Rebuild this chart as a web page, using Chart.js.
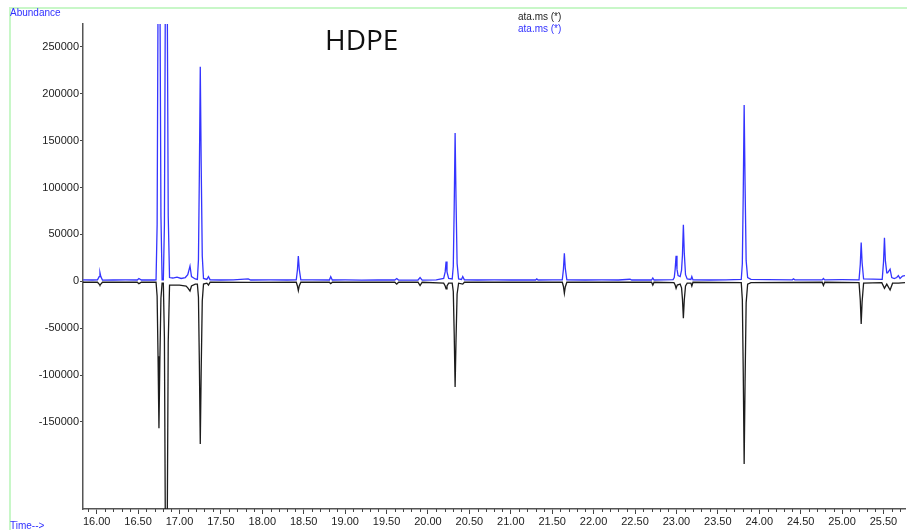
<!DOCTYPE html>
<html>
<head>
<meta charset="utf-8">
<title>HDPE</title>
<script src="https://cdn.jsdelivr.net/npm/chart.js@4.4.1/dist/chart.umd.min.js"></script>
<style>
    html, body { margin: 0; padding: 0; background: #fff; }
    #wrap { position: relative; width: 907px; height: 530px; overflow: hidden; }
    #frame-top { position: absolute; left: 9px; top: 7px; width: 898px; height: 2px; background: #c8f7c8; }
    #frame-left { position: absolute; left: 9px; top: 7px; width: 2px; height: 523px; background: #c8f7c8; }
    .lbl { position: absolute; font-family: "Liberation Sans", Arial, sans-serif; font-size: 10px; white-space: nowrap; }
    #abundance { left: 10px; top: 7px; color: #3030ff; }
    #time { left: 10px; top: 520px; color: #3030ff; }
    #leg1 { left: 518px; top: 11px; color: #222; }
    #leg2 { left: 518px; top: 23px; color: #3030ff; }
    #title { position: absolute; left: 325px; top: 20px; font-family: "Open Sans", sans-serif; font-size: 28px; color: #111; }
    #chart-box { position: absolute; left: 0; top: 0; width: 907px; height: 530px; }
</style>
</head>
<body>
<div id="wrap">
    <div id="chart-box"><canvas id="tic"></canvas></div>
    <div id="frame-top"></div>
    <div id="frame-left"></div>
    <div class="lbl" id="abundance">Abundance</div>
    <div class="lbl" id="time">Time--&gt;</div>
    <div class="lbl" id="leg1">ata.ms (*)</div>
    <div class="lbl" id="leg2">ata.ms (*)</div>
    <div id="title">HDPE</div>
</div>
<script>
// axis ticks
const timeTicks = [16.0, 16.5, 17.0, 17.5, 18.0, 18.5, 19.0, 19.5, 20.0, 20.5,
                   21.0, 21.5, 22.0, 22.5, 23.0, 23.5, 24.0, 24.5, 25.0, 25.5];
const abundanceTicks = [-150000, -100000, -50000, 0, 50000, 100000, 150000, 200000, 250000];

// upper trace (blue), [time, abundance]
const blueTrace = [
    [15.835, 1500], [15.95, 1400], [16.01, 1500], [16.03, 5000], [16.04, 9200], [16.05, 5000], [16.07, 1300],
    [16.20, 1400], [16.35, 1500], [16.49, 1400], [16.51, 3000], [16.54, 1400], [16.70, 1400],
    [16.717, 1500], [16.730, 60000], [16.741, 300000], [16.752, 600000], [16.763, 330000], [16.776, 70000],
    [16.79, 1500], [16.805, 1500], [16.818, 60000], [16.829, 300000], [16.84, 600000], [16.851, 330000],
    [16.864, 70000], [16.88, 4000], [16.92, 3500], [16.97, 4500], [17.02, 3000], [17.07, 4000],
    [17.10, 7000], [17.127, 16300], [17.145, 5000], [17.19, 2500],
    [17.216, 2000], [17.229, 23000], [17.240, 115000], [17.251, 228800], [17.262, 125000], [17.275, 27000],
    [17.29, 3000], [17.33, 2000], [17.35, 5000], [17.37, 1500], [17.50, 1400], [17.65, 1600],
    [17.83, 2500], [17.86, 1400], [18.10, 1500], [18.30, 1400],
    [18.41, 1500], [18.424, 12000], [18.435, 27000], [18.446, 13000], [18.465, 1500], [18.60, 1600],
    [18.81, 1400], [18.826, 4900], [18.845, 1400], [19.00, 1500], [19.20, 1300], [19.40, 1600],
    [19.60, 1400], [19.623, 3000], [19.645, 1300], [19.88, 1400], [19.905, 4000], [19.93, 1300],
    [20.10, 1500], [20.19, 3000], [20.208, 10000], [20.219, 21000], [20.23, 10000], [20.25, 3000],
    [20.293, 2500], [20.306, 16000], [20.317, 79000], [20.328, 158000], [20.339, 87000], [20.352, 19000],
    [20.37, 2500], [20.405, 2000], [20.42, 5000], [20.44, 1500],
    [20.60, 1400], [20.80, 1500], [21.00, 1400], [21.30, 1400], [21.314, 2500], [21.33, 1400],
    [21.50, 1500], [21.622, 1500], [21.636, 13000], [21.647, 29800], [21.658, 14000], [21.677, 1500],
    [21.90, 1400], [22.10, 1500], [22.30, 1400], [22.44, 2200], [22.46, 1400], [22.70, 1400],
    [22.715, 3500], [22.73, 1400], [22.96, 1800], [22.974, 4000], [22.985, 13000], [22.996, 27300],
    [23.007, 13000], [23.02, 6000], [23.045, 5000], [23.062, 12000], [23.073, 28000], [23.084, 60300],
    [23.095, 30000], [23.11, 7000], [23.13, 2500], [23.175, 2000],
    [23.186, 5000], [23.20, 1500], [23.40, 1400], [23.60, 1600],
    [23.783, 2000], [23.796, 19000], [23.807, 94000], [23.818, 188000], [23.829, 103000], [23.842, 22000],
    [23.86, 4000], [23.90, 2000], [24.10, 1700], [24.40, 1600],
    [24.413, 2600], [24.43, 1500], [24.76, 1500], [24.775, 3000], [24.79, 1500], [25.00, 1700],
    [25.205, 1600], [25.22, 18000], [25.231, 41200], [25.242, 20000], [25.26, 2500], [25.485, 2000],
    [25.501, 21000], [25.512, 46500], [25.523, 22000], [25.54, 9000], [25.55, 9000], [25.58, 13000],
    [25.60, 4000], [25.63, 3000], [25.66, 4000], [25.68, 6000], [25.70, 3000], [25.73, 5500], [25.76, 6000]
];

// mirrored trace (black), [time, abundance]
const blackTrace = [
    [15.835, -1000], [15.95, -900], [16.01, -1000], [16.03, -3000], [16.04, -4000], [16.05, -3000],
    [16.07, -1000], [16.35, -1000], [16.49, -1000], [16.51, -2500], [16.54, -1000],
    [16.717, -1000], [16.730, -16000], [16.741, -80000], [16.752, -156700], [16.763, -85000],
    [16.776, -18000], [16.79, -2000], [16.805, -2000], [16.818, -60000], [16.829, -260000],
    [16.84, -500000], [16.851, -280000], [16.864, -65000], [16.88, -4000], [17.00, -4000],
    [17.08, -5000], [17.10, -7000], [17.127, -10300], [17.145, -5000], [17.19, -3000],
    [17.216, -3000], [17.229, -17000], [17.240, -87000], [17.251, -173500], [17.262, -95000],
    [17.275, -21000], [17.29, -3000], [17.33, -2000],
    [17.35, -4000], [17.37, -1000], [17.83, -1200], [18.41, -1000], [18.424, -5000], [18.435, -10000],
    [18.446, -5000], [18.465, -1000], [18.81, -1000], [18.826, -2500], [18.845, -1000], [19.60, -1000],
    [19.623, -3000], [19.645, -1000], [19.88, -1000], [19.905, -4500], [19.93, -1000], [20.19, -2000],
    [20.208, -5000], [20.219, -8000], [20.23, -5000], [20.25, -2000],
    [20.293, -2000], [20.306, -11000], [20.317, -56000], [20.328, -112700], [20.339, -62000],
    [20.352, -13500], [20.37, -2000], [20.42, -3000], [20.44, -1000], [21.622, -1000], [21.636, -5500],
    [21.647, -12800], [21.658, -6000], [21.677, -1000], [22.70, -1000], [22.715, -4000], [22.73, -1000],
    [22.97, -1500], [22.985, -4000], [22.996, -7500], [23.01, -4000], [23.045, -3000], [23.062, -7000],
    [23.073, -19000], [23.084, -39400], [23.095, -20000], [23.11, -5000],
    [23.13, -2000], [23.175, -2000], [23.186, -5000], [23.20, -1000],
    [23.783, -1500], [23.796, -19500], [23.807, -97000], [23.818, -194800], [23.829, -107000],
    [23.842, -23000], [23.86, -3000], [23.90, -1500], [24.76, -1000],
    [24.775, -4500], [24.79, -1000], [25.205, -1500], [25.22, -20000], [25.231, -45500],
    [25.242, -22000], [25.26, -2000], [25.48, -1500], [25.512, -7500], [25.54, -3000], [25.58, -9300],
    [25.61, -2000], [25.68, -2000], [25.76, -1500]
];

const toPoints = trace => trace.map(p => ({ x: p[0], y: p[1] }));

// small 0.1 min ticks under the time axis
const minorTicks = {
    id: 'minorTicks',
    afterDraw(chart) {
        const xs = chart.scales.x;
        const ctx = chart.ctx;
        const y0 = chart.chartArea.bottom;
        ctx.save();
        ctx.strokeStyle = '#444';
        ctx.lineWidth = 1;
        ctx.beginPath();
        for (let i = 159; i <= 257; i++) {
            if (i % 5 === 0) continue;
            const px = Math.round(xs.getPixelForValue(i / 10)) + 0.5;
            ctx.moveTo(px, y0);
            ctx.lineTo(px, y0 + 3);
        }
        ctx.stroke();
        ctx.restore();
    }
};

new Chart(document.getElementById('tic').getContext('2d'), {
    type: 'line',
    data: {
        datasets: [
            {
                label: 'blue',
                data: toPoints(blueTrace),
                borderColor: '#3434ff',
                borderWidth: 1.3,
                pointRadius: 0,
                tension: 0,
                order: 0
            },
            {
                label: 'black',
                data: toPoints(blackTrace),
                borderColor: '#1c1c1c',
                borderWidth: 1.3,
                pointRadius: 0,
                tension: 0,
                order: 1
            }
        ]
    },
    options: {
        responsive: true,
        maintainAspectRatio: false,
        animation: false,
        parsing: false,
        layout: { padding: { top: 24, right: 2, left: 0, bottom: 0 } },
        scales: {
            x: {
                type: 'linear',
                min: 15.835,
                max: 25.76,
                afterBuildTicks: scale => { scale.ticks = timeTicks.map(v => ({ value: v })); },
                afterFit: scale => { scale.height = 21; },
                grid: { drawOnChartArea: false, tickLength: 5, color: '#444' },
                border: { display: true, color: '#555', width: 1.5 },
                ticks: {
                    padding: 1,
                    autoSkip: false,
                    maxRotation: 0,
                    color: '#222',
                    font: { family: 'Liberation Sans', size: 11 },
                    callback: v => v.toFixed(2)
                }
            },
            y: {
                type: 'linear',
                min: -242750,
                max: 274300,
                afterBuildTicks: scale => { scale.ticks = abundanceTicks.map(v => ({ value: v })); },
                afterFit: scale => { scale.width = 83; },
                grid: { drawOnChartArea: false, tickLength: 3, color: '#444' },
                border: { display: true, color: '#555', width: 1.5 },
                ticks: {
                    padding: 1,
                    color: '#222',
                    font: { family: 'Liberation Sans', size: 11 },
                    callback: v => String(v)
                }
            }
        },
        plugins: {
            legend: { display: false },
            tooltip: { enabled: false }
        }
    },
    plugins: [minorTicks]
});
</script>
</body>
</html>
